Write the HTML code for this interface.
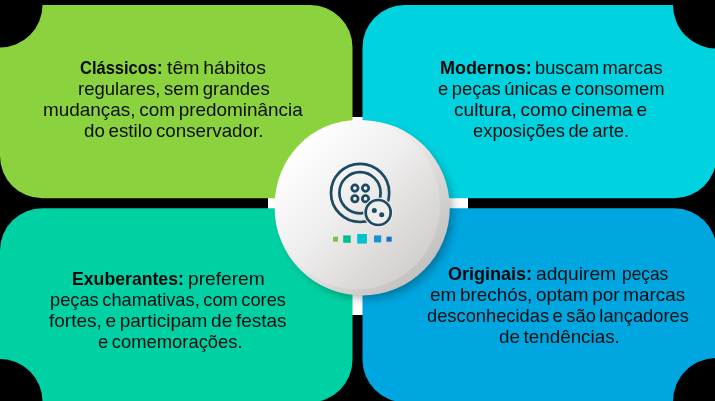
<!DOCTYPE html>
<html>
<head>
<meta charset="utf-8">
<title>Perfis</title>
<style>
html,body{margin:0;padding:0;background:#000;}
body{width:715px;height:401px;position:relative;overflow:hidden;font-family:"Liberation Sans",sans-serif;}
svg{position:absolute;left:0;top:0;display:block;}
.ln{position:absolute;white-space:nowrap;font-size:19px;line-height:19px;color:#0e0e0e;transform-origin:0 0;word-spacing:-1.6px;}
.ln b{font-weight:bold;color:#080808;}
</style>
</head>
<body>
<svg width="715" height="401" viewBox="0 0 715 401">
  <defs>
    <linearGradient id="rim" x1="0.15" y1="0.15" x2="0.85" y2="0.85">
      <stop offset="0" stop-color="#ffffff"/>
      <stop offset="0.5" stop-color="#e6e5e4"/>
      <stop offset="1" stop-color="#c2c2c0"/>
    </linearGradient>
    <linearGradient id="face" x1="0.15" y1="0.15" x2="0.85" y2="0.85">
      <stop offset="0" stop-color="#ffffff"/>
      <stop offset="0.45" stop-color="#efeeee"/>
      <stop offset="1" stop-color="#d3d0ce"/>
    </linearGradient>
    <filter id="blur" x="-30%" y="-30%" width="160%" height="160%">
      <feGaussianBlur stdDeviation="5"/>
    </filter>
  </defs>
  <rect x="0" y="0" width="715" height="401" fill="#000"/>
  <!-- white leftover behind centre disc -->
  <rect x="268" y="117" width="200" height="198" fill="#fff"/>
  <!-- panels -->
  <path fill="#8bd23f" d="M42.5 5H310.2A42.3 42.3 0 0 1 352.5 47.3V156.0A42.3 42.3 0 0 1 310.2 198.3H42.3A42.3 42.3 0 0 1 0 156.0V47.5A42.5 42.5 0 0 0 42.5 5Z"/>
  <path fill="#00d2e0" d="M404.8 5H673.0A43.5 43.5 0 0 0 716.5 48.5V156.0A42.3 42.3 0 0 1 674.2 198.3H404.8A42.3 42.3 0 0 1 362.5 156.0V47.3A42.3 42.3 0 0 1 404.8 5Z"/>
  <path fill="#00d1a4" d="M42.3 208.2H310.2A42.3 42.3 0 0 1 352.5 250.5V359.9A42.3 42.3 0 0 1 310.2 402.2H42.5V401.5A42.5 42.5 0 0 0 0 359.0V250.5A42.3 42.3 0 0 1 42.3 208.2Z"/>
  <path fill="#00a6e0" d="M404.8 208.2H674.2A42.3 42.3 0 0 1 716.5 250.5V358.0A43.5 43.5 0 0 0 673.0 401.5V402.2H404.8A42.3 42.3 0 0 1 362.5 359.9V250.5A42.3 42.3 0 0 1 404.8 208.2Z"/>
  <!-- disc shadow -->
  <circle cx="367" cy="213" r="86" fill="#000" opacity="0.28" filter="url(#blur)"/>
  <!-- disc -->
  <circle cx="362.2" cy="207.8" r="87.6" fill="url(#rim)"/>
  <ellipse cx="357.4" cy="204.7" rx="82.6" ry="84.6" fill="url(#face)"/>
  <!-- icon -->
  <g fill="none" stroke="#1b4a61" stroke-width="2.7">
    <circle cx="360.1" cy="192.9" r="29.1"/>
    <circle cx="360" cy="192.7" r="20.6"/>
    <circle cx="354.9" cy="188.1" r="3.2"/>
    <circle cx="365.5" cy="188.1" r="3.2"/>
    <circle cx="354.9" cy="198.7" r="3.2"/>
    <circle cx="365.5" cy="198.7" r="3.2"/>
  </g>
  <circle cx="378.2" cy="212.5" r="15" fill="#eeedec"/>
  <circle cx="378.2" cy="212.5" r="12.5" fill="#eeedec" stroke="#1b4a61" stroke-width="2.7"/>
  <circle cx="374.3" cy="210.5" r="2.5" fill="#1b4a61"/>
  <circle cx="381.7" cy="214.7" r="2.5" fill="#1b4a61"/>
  <rect x="333" y="236.7" width="5" height="5" fill="#7fc241"/>
  <rect x="343.2" y="235.4" width="7.5" height="7.4" fill="#00c08f"/>
  <rect x="357.2" y="234" width="9.7" height="9.6" fill="#00c1d1"/>
  <rect x="374" y="235.4" width="7.2" height="7" fill="#1793d1"/>
  <rect x="386.5" y="236.7" width="5.2" height="5" fill="#1672cb"/>
</svg>
<div class="ln" style="left:79.7px;top:58.0px;transform:scaleX(0.8669)"><b>Clássicos:</b></div>
<div class="ln" style="left:167.0px;top:58.0px;transform:scaleX(1.0235)">têm hábitos</div>
<div class="ln" style="left:77.5px;top:79.0px;transform:scaleX(0.9760)">regulares, sem grandes</div>
<div class="ln" style="left:42.7px;top:100.0px;transform:scaleX(0.9961)">mudanças, com predominância</div>
<div class="ln" style="left:84.4px;top:121.0px;transform:scaleX(0.9877)">do estilo conservador.</div>
<div class="ln" style="left:439.8px;top:58.0px;transform:scaleX(0.9443)"><b>Modernos:</b></div>
<div class="ln" style="left:535.1px;top:58.0px;transform:scaleX(0.9630)">buscam marcas</div>
<div class="ln" style="left:438.2px;top:79.0px;transform:scaleX(0.9667)">e peças únicas e consomem</div>
<div class="ln" style="left:453.6px;top:100.0px;transform:scaleX(1.0077)">cultura, como cinema e</div>
<div class="ln" style="left:473.0px;top:121.0px;transform:scaleX(0.9661)">exposições de arte.</div>
<div class="ln" style="left:71.6px;top:269.0px;transform:scaleX(0.9296)"><b>Exuberantes:</b></div>
<div class="ln" style="left:187.8px;top:269.0px;transform:scaleX(1.0088)">preferem</div>
<div class="ln" style="left:49.7px;top:290.0px;transform:scaleX(0.9614)">peças chamativas, com cores</div>
<div class="ln" style="left:48.6px;top:311.0px;transform:scaleX(1.0002)">fortes, e participam de festas</div>
<div class="ln" style="left:97.9px;top:332.0px;transform:scaleX(0.9677)">e comemorações.</div>
<div class="ln" style="left:448.0px;top:264.0px;transform:scaleX(0.9471)"><b>Originais:</b></div>
<div class="ln" style="left:535.9px;top:264.0px;transform:scaleX(1.0111)">adquirem</div>
<div class="ln" style="left:621.6px;top:264.0px;transform:scaleX(0.9132)">peças</div>
<div class="ln" style="left:429.8px;top:285.0px;transform:scaleX(0.9944)">em brechós, optam por marcas</div>
<div class="ln" style="left:426.7px;top:306.0px;transform:scaleX(0.9630)">desconhecidas e são lançadores</div>
<div class="ln" style="left:499.3px;top:327.0px;transform:scaleX(0.9902)">de tendências.</div>

</body>
</html>
